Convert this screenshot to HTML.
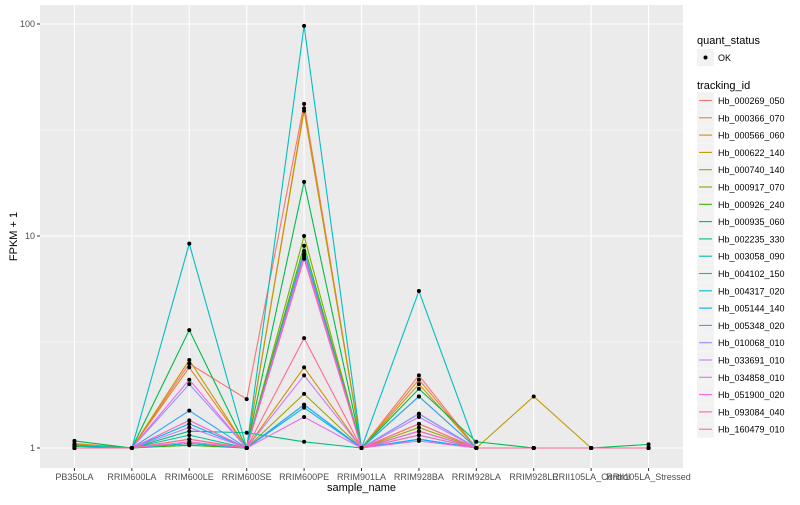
<!DOCTYPE html>
<html><head><meta charset="utf-8"><style>
body{margin:0;background:#fff;font-family:"Liberation Sans",sans-serif;}
svg text{font-family:"Liberation Sans",sans-serif;}
</style></head><body>
<svg id="chart" width="800" height="500"></svg>
<script>
const categories=["PB350LA","RRIM600LA","RRIM600LE","RRIM600SE","RRIM600PE","RRIM901LA","RRIM928BA","RRIM928LA","RRIM928LE","RRII105LA_Control","RRII105LA_Stressed"];
const trackingIds=["Hb_000269_050","Hb_000366_070","Hb_000566_060","Hb_000622_140","Hb_000740_140","Hb_000917_070","Hb_000926_240","Hb_000935_060","Hb_002235_330","Hb_003058_090","Hb_004102_150","Hb_004317_020","Hb_005144_140","Hb_005348_020","Hb_010068_010","Hb_033691_010","Hb_034858_010","Hb_051900_020","Hb_093084_040","Hb_160479_010"];
const seriesColors=["#F8766D","#EA8331","#D89000","#C09B00","#A3A500","#7CAE00","#39B600","#00BB4E","#00BF7D","#00C1A3","#00BFC4","#00BAE0","#00B0F6","#35A2FF","#9590FF","#C77CFF","#E76BF3","#FA62DB","#FF62BC","#FF6C91"];
const s0=[1.03,1,2.5,1.7,42,1,2.2,1,1,1,1];
const s1=[1.05,1,2.4,1,40,1,2.1,1,1,1,1];
const s2=[1.02,1,1.1,1,2.4,1,1.3,1,1,1,1];
const s3=[1.04,1,2.6,1,39,1,2.0,1,1.75,1,1];
const s4=[1.02,1,1.05,1,1.8,1,1.25,1,1,1,1];
const s5=[1,1,1.05,1,10,1,1.75,1,1,1,1];
const s6=[1,1,1.03,1,9,1,1.2,1,1,1,1];
const s7=[1.08,1,3.6,1,18,1,1.9,1.07,1,1,1.04];
const s8=[1.02,1,1.2,1.18,1.07,1,1.1,1,1,1,1];
const s9=[1,1,1.15,1,1.6,1,1.45,1,1,1,1];
const s10=[1.03,1,9.2,1,98,1,5.5,1,1,1,1];
const s11=[1,1,1.05,1,1.55,1,1.15,1,1,1,1];
const s12=[1,1,1.3,1,8.5,1,1.1,1,1,1,1];
const s13=[1,1,1.5,1,1.6,1,1.75,1,1,1,1];
const s14=[1,1,2.0,1,8.2,1,1.45,1,1,1,1];
const s15=[1,1,1.25,1,2.2,1,1.4,1,1,1,1];
const s16=[1,1,2.1,1,1.4,1,1.08,1,1,1,1];
const s17=[1,1,1.07,1,8,1,1.2,1,1,1,1];
const s18=[1,1,1.35,1,7.8,1,1.15,1,1,1,1];
const s19=[1,1,1.1,1,3.3,1,1.3,1,1,1,1];
const seriesValues=[s0,s1,s2,s3,s4,s5,s6,s7,s8,s9,s10,s11,s12,s13,s14,s15,s16,s17,s18,s19];
const yTicks=[1,10,100];
const yTickLabels=["1","10","100"];

const NS="http://www.w3.org/2000/svg";
const svg=document.getElementById("chart");
const L=40,R=683,T=5,B=468;
const step=(R-L)/(categories.length-1+1.2);
function xs(i){return L+0.6*step+i*step;}
function ys(v){return 448-212*Math.log10(v);}
function mk(tag,attrs,parent){const e=document.createElementNS(NS,tag);for(const k in attrs)e.setAttribute(k,attrs[k]);(parent||svg).appendChild(e);return e;}

const panel=mk("rect",{x:L,y:T,width:R-L,height:B-T,fill:"#EBEBEB"});


// minor grid
[Math.sqrt(10),Math.sqrt(1000)].forEach(v=>{mk("line",{x1:L,x2:R,y1:ys(v),y2:ys(v),stroke:"#fff","stroke-width":0.5});});
yTicks.forEach((v,i)=>{
  const g=mk("line",{x1:L,x2:R,y1:ys(v),y2:ys(v),stroke:"#fff","stroke-width":1.1});
  
  
  mk("line",{x1:L-3,x2:L,y1:ys(v),y2:ys(v),stroke:"#333","stroke-width":1});
  const t=mk("text",{x:L-5,y:ys(v)+3,"text-anchor":"end","font-size":9,fill:"#4d4d4d"});
  t.textContent=yTickLabels[i];
  
  
});
categories.forEach((c,i)=>{
  const g=mk("line",{x1:xs(i),x2:xs(i),y1:T,y2:B,stroke:"#fff","stroke-width":1.1});
  
  
  mk("line",{x1:xs(i),x2:xs(i),y1:B,y2:B+3,stroke:"#333","stroke-width":1});
  const t=mk("text",{x:xs(i),y:B+12,"text-anchor":"middle","font-size":9,fill:"#4d4d4d"});
  t.textContent=c;
  
  
});
seriesValues.forEach((vals,si)=>{
  const p=mk("polyline",{points:vals.map((v,i)=>xs(i)+","+ys(v)).join(" "),fill:"none",stroke:seriesColors[si],"stroke-width":1.1});
  
  
});
seriesValues.forEach((vals,si)=>{
  vals.forEach((v,i)=>{
    const c=mk("circle",{cx:xs(i),cy:ys(v),r:2,fill:"#000"});
    
    
  });
});
// axis titles
let t=mk("text",{x:(L+R)/2,y:491,"text-anchor":"middle","font-size":11,fill:"#000"});
t.textContent="sample_name";


t=mk("text",{x:0,y:0,"text-anchor":"middle","font-size":11,fill:"#000",transform:"translate(17,"+((T+B)/2)+") rotate(-90)"});
t.textContent="FPKM + 1";


// legend
t=mk("text",{x:697,y:44,"font-size":11,fill:"#000"});
t.textContent="quant_status";


mk("rect",{x:697,y:49,width:17,height:17,fill:"#F2F2F2"});
mk("circle",{cx:705.5,cy:57.5,r:2,fill:"#000"});
t=mk("text",{x:718,y:61,"font-size":9,fill:"#000"});
t.textContent="OK";


t=mk("text",{x:697,y:89,"font-size":11,fill:"#000"});
t.textContent="tracking_id";


trackingIds.forEach((id,i)=>{
  const y=92+i*17.3;
  mk("rect",{x:697,y:y,width:17,height:17,fill:"#F2F2F2"});
  mk("line",{x1:699,x2:712,y1:y+8.5,y2:y+8.5,stroke:seriesColors[i],"stroke-width":1.1});
  const tx=mk("text",{x:718,y:y+12,"font-size":9,fill:"#000"});
  tx.textContent=id;
  
  
});
</script>
</body></html>
